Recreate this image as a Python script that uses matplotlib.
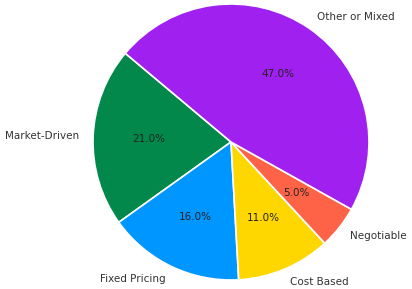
import matplotlib
matplotlib.use("Agg")
import matplotlib.pyplot as plt

categories = ["Market-Driven", "Fixed Pricing", "Cost Based", "Negotiable", "Other or Mixed"]
values = [21, 16, 11, 5, 47]
colors = ["#03884C", "#0096FF", "#FFD700", "#FF6347", "#A020F0"]

fig = plt.figure(figsize=(4.12, 2.89), dpi=100)
ax = fig.add_axes([0, 0, 1, 1])
wedges, texts, autotexts = ax.pie(
    values, labels=categories, colors=colors, autopct="%1.1f%%",
    startangle=140, counterclock=True, labeldistance=1.1, pctdistance=0.6,
    wedgeprops=dict(edgecolor="white", linewidth=1.2),
    textprops=dict(fontsize=7.5, color="#333333"),
)
for t in autotexts:
    t.set_color("#222222")
ax.set_aspect("auto")
ax.set_xlim(-231 / 138, (412 - 231) / 138)
ax.set_ylim(-147 / 138, 142 / 138)
ax.axis("off")
fig.savefig("out.png", dpi=100, facecolor="white")
